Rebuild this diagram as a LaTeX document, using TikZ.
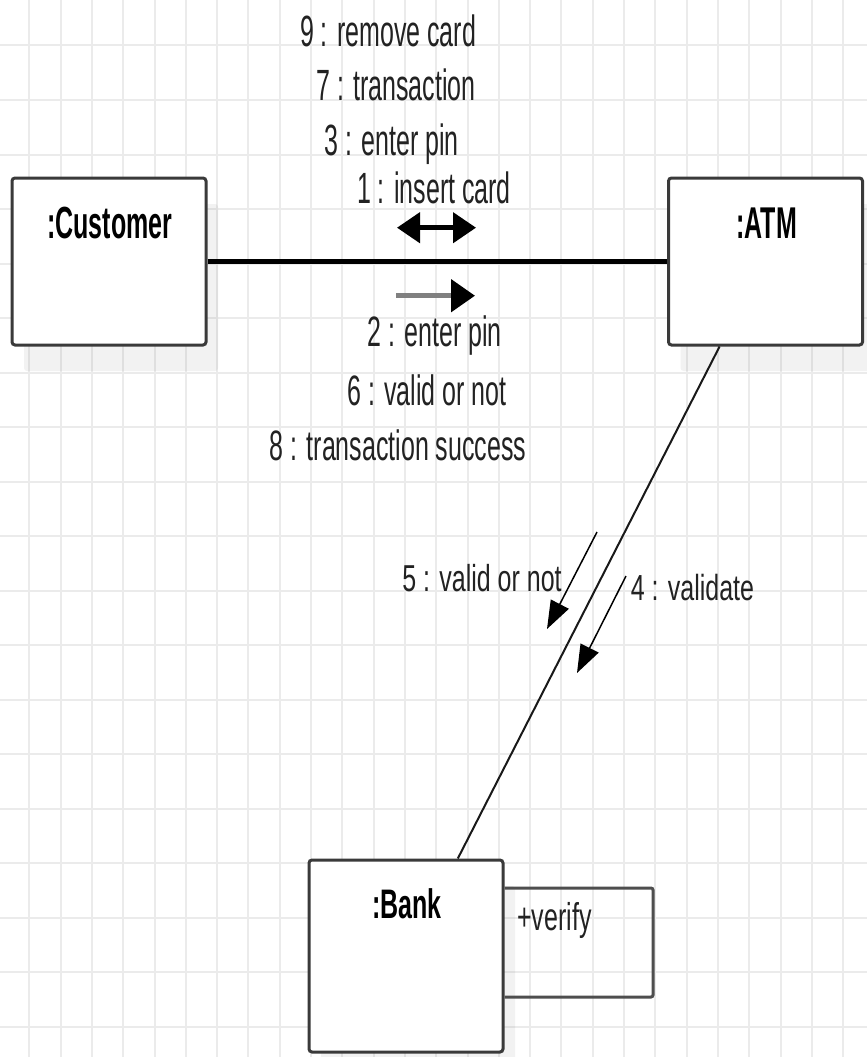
\documentclass[tikz,border=0pt]{standalone}
\usepackage{fontspec}
\setmainfont{Liberation Sans}
\usepackage{graphicx}
\usetikzlibrary{arrows.meta,calc,shadows}

% vertically stretched text
\newcommand{\stretchtxt}[2]{\scalebox{1}[#1]{#2}}

\definecolor{gridgray}{HTML}{EBEBEB}
\definecolor{boxline}{HTML}{3A3A3A}
\definecolor{txt}{HTML}{222222}

\tikzset{
  gridline/.style={draw=gridgray, line width=2pt},
  objbox/.style={draw=boxline, line width=3pt, rounded corners=3pt, fill=white,
    inner sep=0pt, minimum width=194pt,
    general shadow={fill=black, opacity=0.05, shadow xshift=12pt, shadow yshift=-26pt}},
  header/.style={inner sep=0pt, anchor=base, text=black,
    font=\fontsize{25}{30}\selectfont\bfseries},
  msg/.style={inner sep=0pt, anchor=base, text=txt,
    font=\fontsize{25}{30}\selectfont},
  assoc/.style={draw=black, line width=4.5pt},
  link/.style={draw=black!90, line width=2pt},
  loopline/.style={draw=boxline!90, line width=3pt, rounded corners=2pt},
  bigtip/.style={line width=4.5pt},
  smallmsg/.style={draw=black, line width=1.5pt, -{Triangle[length=28pt,width=20pt]}},
}

\begin{document}
\begin{tikzpicture}[x=1pt, y=-1pt]
  \useasboundingbox (0,0) rectangle (867,1057);
  \fill[white] (0,0) rectangle (867,1057);

  % background grid
  \foreach \i in {0,...,26}
    \draw[gridline] ({29.3+31.3*\i},0) -- ({29.3+31.3*\i},1057);
  \foreach \j in {0,...,18}
    \draw[gridline] (0,{45.5+54.5*\j}) -- (867,{45.5+54.5*\j});

  % objects
  \node[objbox, minimum height=167pt] (cust) at (109,261.5) {};
  \node[objbox, minimum height=167pt] (atm)  at (765.5,261.5) {};
  \node[objbox, minimum height=192pt] (bank) at (406,956) {};

  \node[header] (custname) at (109.7,238) {\stretchtxt{1.8}{:Customer}};
  \node[header] (atmname)  at (766.7,238.3) {\stretchtxt{1.78}{:ATM}};
  \node[header] (bankname) at (407,918.3) {\stretchtxt{1.65}{:Bank}};

  % links between objects
  \draw[assoc] (cust.east) -- (atm.west);
  \coordinate (atmfoot)  at ($(atm.south west)!0.267!(atm.south east)$);
  \coordinate (bankhead) at ($(bank.north west)!0.763!(bank.north east)$);
  \draw[link] (atmfoot) -- (bankhead);

  % self link on the bank
  \coordinate (lt) at (653,888);
  \coordinate (lb) at (653,997);
  \draw[loopline] (bank.east |- lt) -- (lt) -- (lb) -- (bank.east |- lb);
  \node[msg, anchor=base west] (verify) at (517,930) {\stretchtxt{1.55}{+verify}};

  % messages between customer and ATM
  \coordinate (d1) at (397,227.7);
  \coordinate (d2) at (476,227.7);
  \draw[bigtip, {Triangle[length=23pt,width=30pt]}-{Triangle[length=23pt,width=30pt]}] (d1) -- (d2);

  \coordinate (g1) at (396,295.7);
  \coordinate (g2) at (475,295.7);
  \draw[draw=black!50, line width=5pt, -{Triangle[length=24pt,width=32pt,black]}] (g1) -- (g2);

  \node[msg] (m9) at (388,46.7)  {\stretchtxt{1.75}{9 : remove card}};
  \node[msg] (m7) at (396,100)   {\stretchtxt{1.75}{7 : transaction}};
  \node[msg] (m3) at (391.7,155) {\stretchtxt{1.75}{3 : enter pin}};
  \node[msg] (m1) at (434,203.3) {\stretchtxt{1.75}{1 : insert card}};

  \node[msg] (m2) at (434.5,346.7) {\stretchtxt{1.7}{2 : enter pin}};
  \node[msg] (m6) at (427,405)     {\stretchtxt{1.7}{6 : valid or not}};
  \node[msg] (m8) at (398,460)     {\stretchtxt{1.7}{8 : transaction success}};

  % messages between ATM and bank
  \coordinate (v1) at (597,532);
  \coordinate (v2) at (547,629);
  \draw[smallmsg] (v1) -- (v2);
  \coordinate (w1) at (626,576);
  \coordinate (w2) at (577,673);
  \draw[smallmsg] (w1) -- (w2);

  \node[msg] (m5) at (482,591.7) {\stretchtxt{1.5}{5 : valid or not}};
  \node[msg] (m4) at (692.5,600) {\stretchtxt{1.45}{4 : validate}};
\end{tikzpicture}
\end{document}
